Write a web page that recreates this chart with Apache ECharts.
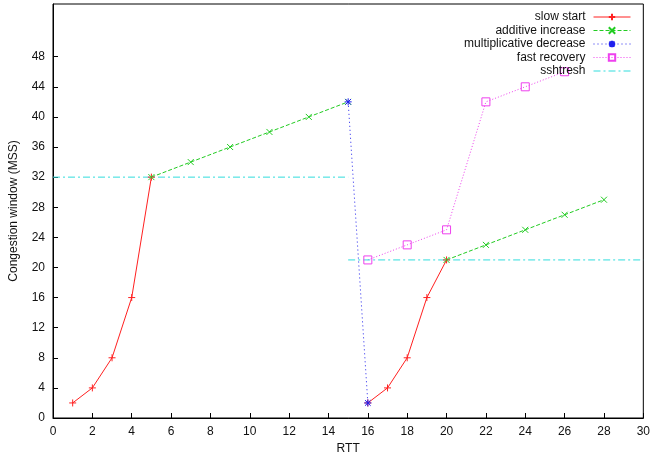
<!DOCTYPE html>
<html>
<head>
<meta charset="utf-8">
<script src="https://cdn.jsdelivr.net/npm/echarts@6/dist/echarts.min.js"></script>
<style>
  html, body { margin: 0; padding: 0; background: #fff; }
  #chart { width: 653px; height: 460px; }
</style>
</head>
<body>
<div id="chart"></div>
<script>
// data (RTT, cwnd in MSS)
const slowStart1 = [[1, 2], [2, 4], [3, 8], [4, 16], [5, 32]];
const slowStart2 = [[16, 2], [17, 4], [18, 8], [19, 16], [20, 21]];
const additive1 = [[5, 32], [7, 34], [9, 36], [11, 38], [13, 40], [15, 42]];
const additive2 = [[20, 21], [22, 23], [24, 25], [26, 27], [28, 29]];
const multDecrease = [[15, 42], [16, 2]];
const fastRecovery = [[16, 21], [18, 23], [20, 25], [22, 42], [24, 44], [26, 46]];
const ssthresh1 = [[0, 32], [15, 32]];
const ssthresh2 = [[15, 21], [30, 21]];
const yTicks = [0, 4, 8, 12, 16, 20, 24, 28, 32, 36, 40, 44, 48];

const GAP = ['-', '-'];
const font = 'Liberation Sans, Arial, sans-serif';

const plusPath = 'path://M0,5H10M5,0V10';
const crossPath = 'path://M0,0L10,10M0,10L10,0';
const starPath = 'path://M0,5H10M5,0V10M1,1L9,9M1,9L9,1';
const squarePath = 'path://M0,0H10V10H0Z';

function lineSeries(name, data, color, dash, symbol, size, show) {
  return {
    name: name,
    type: 'line',
    data: data,
    connectNulls: false,
    symbol: symbol,
    symbolSize: size,
    showSymbol: show,
    lineStyle: { color: color, width: 1, type: dash },
    itemStyle: { color: 'transparent', borderColor: color, borderWidth: show ? 1 : 0 },
    emphasis: { disabled: true },
    animation: false
  };
}

const chart = echarts.init(document.getElementById('chart'));

chart.setOption({
  backgroundColor: '#fff',
  animation: false,
  grid: {
    left: 51, right: 8, top: 4, bottom: 38,
    show: true, borderColor: '#000', borderWidth: 1
  },
  legend: {
    orient: 'vertical',
    right: 17,
    top: 6,
    align: 'right',
    itemWidth: 37,
    itemHeight: 8,
    itemGap: 1.5,
    selectedMode: false,
    lineStyle: { width: 1 },
    textStyle: { fontFamily: font, fontSize: 12, color: '#111', padding: [0, 3, 0, 0] },
    data: ['slow start', 'additive increase', 'multiplicative decrease', 'fast recovery', 'sshtresh']
  },
  xAxis: {
    type: 'value', min: 0, max: 30, interval: 2,
    name: 'RTT', nameLocation: 'middle', nameGap: 25,
    nameTextStyle: { fontFamily: font, fontSize: 12, color: '#111' },
    axisLine: { onZero: false, lineStyle: { color: '#000' } },
    axisTick: { inside: true, length: 5, lineStyle: { color: '#000' } },
    axisLabel: { fontFamily: font, fontSize: 12, color: '#111', margin: 8 },
    splitLine: { show: false }
  },
  yAxis: {
    type: 'value', min: 0, max: 55,
    name: 'Congestion window (MSS)', nameLocation: 'middle', nameGap: 33,
    nameTextStyle: { fontFamily: font, fontSize: 12, color: '#111' },
    axisLine: { show: true, onZero: false, lineStyle: { color: '#000' } },
    axisTick: { show: true, inside: true, length: 5, customValues: yTicks, lineStyle: { color: '#000' } },
    axisLabel: { fontFamily: font, fontSize: 12, color: '#111', margin: 8, customValues: yTicks },
    splitLine: { show: false }
  },
  series: [
    lineSeries('slow start', slowStart1.concat([GAP], slowStart2), '#ff2020', 'solid', plusPath, 7, true),
    lineSeries('additive increase', additive1.concat([GAP], additive2), '#22cc22', [4, 2], crossPath, 6, true),
    lineSeries('multiplicative decrease', multDecrease, '#2020ee', [1, 3], starPath, 7, true),
    lineSeries('fast recovery', fastRecovery, '#ee40ee', [1, 2], squarePath, 8, true),
    lineSeries('sshtresh', ssthresh1.concat([GAP], ssthresh2), '#30dddd', [7, 3, 2, 3], 'circle', 1, false)
  ]
});
</script>
</body>
</html>
